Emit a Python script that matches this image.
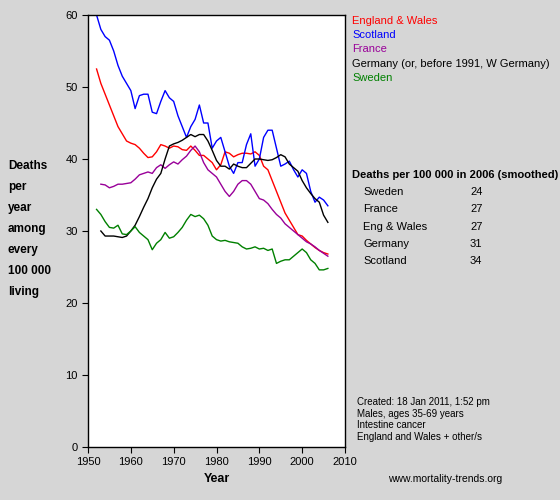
import numpy as np, pandas as pd, matplotlib
matplotlib.use("Agg")
import matplotlib.pyplot as plt, seaborn as sns
plt.rcParams['font.family'] = ['Liberation Sans', 'DejaVu Sans']

years = list(range(1952, 2007))
scotland = [60,58,57,56.5,55,53,51.5,50.5,49.5,47,48.8,49,49,46.5,46.3,48,49.5,48.5,48,46,44.5,43,44.5,45.5,47.5,45,45,41.5,42.5,43,41,39,38,39.5,39.5,42,43.5,39,40,43,44,44,41.5,39,39.3,39.7,38.5,37.5,38.5,38,35.5,34,34.7,34.3,33.5]
england = [52.5,50.5,49,47.5,46,44.5,43.5,42.5,42.2,42,41.5,40.8,40.2,40.3,41,42,41.8,41.5,41.8,41.7,41.3,41.2,41.8,41.2,40.5,40.5,40,39.5,38.5,39.2,41,40.8,40.3,40.6,40.8,40.8,40.7,41,40.5,39,38.5,37,35.5,34,32.5,31.5,30.5,29.5,29.3,28.7,28.2,27.7,27.3,27,26.8]
france = [np.nan,36.5,36.4,36,36.2,36.5,36.5,36.6,36.7,37.2,37.8,38,38.2,38,38.8,39.2,38.7,39.2,39.6,39.3,39.9,40.4,41.2,41.8,41,39.5,38.5,38,37.5,36.5,35.5,34.8,35.5,36.5,37,37,36.5,35.5,34.5,34.3,33.8,33,32.3,31.8,31,30.5,30,29.5,29,28.5,28.2,27.8,27.3,26.9,26.5]
germany = [np.nan,30,29.3,29.3,29.3,29.2,29.1,29.3,30,30.8,32,33.3,34.5,36,37.2,38,40,41.8,42.1,42.3,42.6,43,43.4,43.1,43.4,43.4,42.5,41.2,39.8,39,39,38.6,39.3,39,38.8,38.8,39.4,40,40,np.nan,39.8,39.9,40.2,40.6,40.3,39.3,38.8,38.3,37,36,35.2,34.5,34,32.2,31.2]
sweden = [33,32.3,31.3,30.5,30.4,30.8,29.6,29.5,30,30.6,29.8,29.3,28.8,27.4,28.3,28.8,29.8,29,29.2,29.8,30.5,31.5,32.3,32,32.2,31.7,30.8,29.3,28.8,28.6,28.7,28.5,28.4,28.3,27.8,27.5,27.6,27.8,27.5,27.6,27.3,27.5,25.5,25.8,26,26,26.5,27,27.5,27,26,25.5,24.6,24.6,24.8]
names = ["England & Wales","Scotland","France","Germany (or, before 1991, W Germany)","Sweden"]
colors = ["#ff0000","#0000ff","#990099","#000000","#008000"]
table_names = ["Sweden","France","Eng & Wales","Germany","Scotland"]
table_vals = [24,27,27,31,34]

series = [england, scotland, france, germany, sweden]
bg = "#d6d6d6"
fig = plt.figure(figsize=(5.6,5.0), dpi=100, facecolor=bg)
ax = fig.add_axes([88/560, 1-447/500, 257/560, 432/500])
ax.set_facecolor("white")
for name, vals, c in zip(names, series, colors):
    df = pd.DataFrame({"year": years, "v": vals})
    sns.lineplot(data=df, x="year", y="v", color=c, lw=1, ax=ax)
ax.set_xlim(1950, 2010); ax.set_ylim(0, 60)
ax.set_xticks(range(1950, 2011, 10)); ax.set_yticks(range(0, 61, 10))
ax.tick_params(labelsize=8, direction="out", length=4)
ax.set_xlabel("Year", fontsize=9, fontweight="bold")
ax.set_ylabel("")
for s in ax.spines.values(): s.set_linewidth(1)
fig.text(8/560, 1-160/500, "Deaths\nper\nyear\namong\nevery\n100 000\nliving", fontsize=8.5,
         fontweight="bold", va="top", linespacing=2.0)
for i, (n, c) in enumerate(zip(names, colors)):
    fig.text(352/560, 1-(21+14.2*i)/500, n, color=c, fontsize=8, va="center")
fig.text(352/560, 1-175/500, "Deaths per 100 000 in 2006 (smoothed)", fontsize=8, fontweight="bold", va="center")
for i, (n, v) in enumerate(zip(table_names, table_vals)):
    y = 1-(192+17.3*i)/500
    fig.text(363/560, y, n, fontsize=8, va="center")
    fig.text(470/560, y, str(v), fontsize=8, va="center")
fig.text(357/560, 1-397/500, "Created: 18 Jan 2011, 1:52 pm\nMales, ages 35-69 years\nIntestine cancer\nEngland and Wales + other/s",
         fontsize=7, va="top", linespacing=1.2)
fig.text(388/560, 1-479/500, "www.mortality-trends.org", fontsize=7.5, va="center")
fig.savefig("out.png", dpi=100, facecolor=bg)
